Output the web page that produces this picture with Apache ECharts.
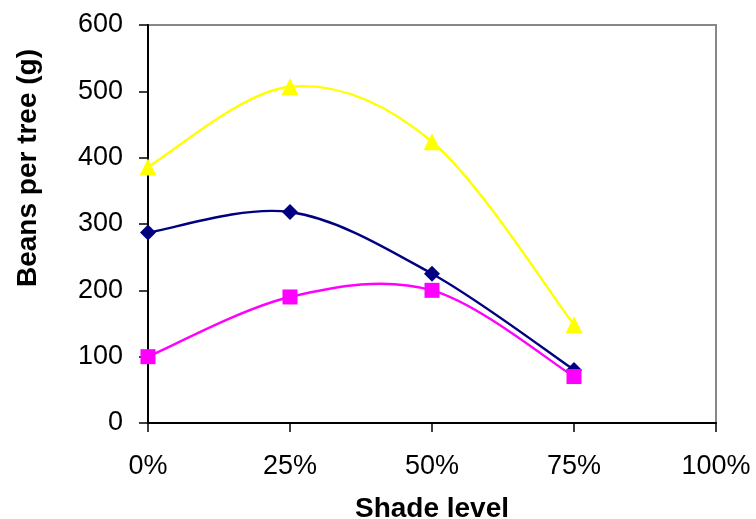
<!DOCTYPE html>
<html><head><meta charset="utf-8">
<script src="https://cdn.jsdelivr.net/npm/echarts@6/dist/echarts.min.js"></script>
<style>html,body{margin:0;padding:0;background:#fff}#c{width:756px;height:519px}</style>
</head><body><div id="c"></div>
<script>
const shade = [0, 25, 50, 75];
const xTicks = ['0%', '25%', '50%', '75%', '100%'];
const blueVals = [287, 318, 225, 80];
const magentaVals = [100, 190, 200, 70];
const yellowVals = [386, 507, 424, 148];

function pts(v){ return shade.map((s,i)=>[s, v[i]]); }

// Smoothed line (Catmull-Rom style, like spreadsheet smoothing) computed in pixel space via the axes
function curveSeries(vals, color){
  return {
    type:'custom', silent:true, z:1,
    data: shade.slice(0, -1).map((s,i)=>[s, vals[i]]),
    encode:{x:0, y:1},
    renderItem:function(params, api){
      const i = params.dataIndex, n = shade.length;
      const P = k => api.coord([shade[Math.max(0, Math.min(n-1, k))], vals[Math.max(0, Math.min(n-1, k))]]);
      const p0 = P(i-1), p1 = P(i), p2 = P(i+1), p3 = P(i+2);
      return {type:'bezierCurve', shape:{
          x1:p1[0], y1:p1[1], x2:p2[0], y2:p2[1],
          cpx1:p1[0] + (p2[0]-p0[0])/6, cpy1:p1[1] + (p2[1]-p0[1])/6,
          cpx2:p2[0] - (p3[0]-p1[0])/6, cpy2:p2[1] - (p3[1]-p1[1])/6},
        style:{stroke:color, lineWidth:2.4, fill:null}};
    }
  };
}
function markerSeries(vals, color, symbol, size){
  return {type:'scatter', data:pts(vals), symbol:symbol, symbolSize:size, z:3,
    itemStyle:{color:color, opacity:1}};
}

const chart = echarts.init(document.getElementById('c'));
const font = 'Liberation Sans, Arial, sans-serif';
chart.setOption({
  animation:false,
  grid:{left:148, top:25, right:40, bottom:96, show:true, borderColor:'#888', borderWidth:2,
    containLabel:false, outerBoundsMode:'none'},
  xAxis:{type:'value', min:0, max:100, interval:25,
    axisLine:{lineStyle:{color:'#000', width:2}},
    axisTick:{show:true, length:9, lineStyle:{color:'#000', width:1.5}},
    axisLabel:{color:'#000', fontFamily:font, fontSize:27, margin:30, formatter:v=>xTicks[v/25]},
    splitLine:{show:false},
    name:'Shade level', nameLocation:'middle', nameGap:72,
    nameTextStyle:{color:'#000', fontFamily:font, fontSize:28, fontWeight:'bold'}},
  yAxis:{type:'value', min:0, max:600, interval:100,
    axisLine:{show:true, lineStyle:{color:'#000', width:2}},
    axisTick:{show:true, length:9, lineStyle:{color:'#000', width:1.5}},
    axisLabel:{color:'#000', fontFamily:font, fontSize:27, margin:25},
    splitLine:{show:false},
    name:'Beans per tree (g)', nameLocation:'middle', nameGap:106,
    nameTextStyle:{color:'#000', fontFamily:font, fontSize:28, fontWeight:'bold', padding:[0,0,0,112]}},
  series:[
    curveSeries(yellowVals, '#ffff00'),
    curveSeries(blueVals, '#000080'),
    curveSeries(magentaVals, '#ff00ff'),
    markerSeries(yellowVals, '#ffff00', 'triangle', 17),
    markerSeries(blueVals, '#000080', 'diamond', 16),
    markerSeries(magentaVals, '#ff00ff', 'rect', 15)
  ]
});
</script></body></html>
